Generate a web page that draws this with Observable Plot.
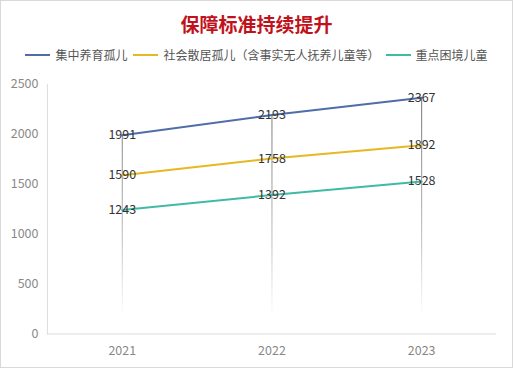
<!DOCTYPE html>
<html>
<head>
<meta charset="utf-8">
<script src="https://cdn.jsdelivr.net/npm/d3@7"></script>
<script src="https://cdn.jsdelivr.net/npm/@observablehq/plot@0.6"></script>
<style>
  html, body { margin: 0; padding: 0; background: #fff; }
  #wrap { position: relative; width: 511px; height: 366px; border: 1px solid #d9d9d9; font-family: "Noto Sans CJK SC", "Noto Sans", sans-serif; overflow: hidden; }
  #title { position: absolute; top: 9px; left: 0; width: 511px; text-align: center; font-size: 19px; font-weight: bold; color: #c1121c; letter-spacing: 0px; }
  #legend { position: absolute; top: 45px; left: 0; width: 511px; display: flex; justify-content: center; font-size: 12px; color: #555; }
  .item { display: flex; align-items: center; margin: 0 3px; }
  .sw { width: 25px; height: 2px; margin-right: 5px; }
  #chart { position: absolute; top: 69px; left: -1px; }
</style>
</head>
<body>
<div id="wrap">
  <div id="title">保障标准持续提升</div>
  <div id="legend"></div>
  <div id="chart"></div>
</div>
<script>
const years = ["2021", "2022", "2023"];
const seriesNames = ["集中养育孤儿", "社会散居孤儿（含事实无人抚养儿童等）", "重点困境儿童"];
const seriesColors = ["#4f6ea8", "#e6b822", "#3fbba5"];
const centralized = [1991, 2193, 2367];
const scattered = [1590, 1758, 1892];
const hardship = [1243, 1392, 1528];
const yTicks = [0, 500, 1000, 1500, 2000, 2500];

const allValues = [centralized, scattered, hardship];
const data = [];
allValues.forEach((vals, si) => {
  vals.forEach((v, i) => data.push({ year: years[i], value: v, series: seriesNames[si] }));
});
const tops = years.map((y, i) => ({ year: y, top: d3.max(allValues, s => s[i]) }));

// legend
const legend = document.getElementById("legend");
seriesNames.forEach((n, i) => {
  const it = document.createElement("div");
  it.className = "item";
  it.innerHTML = `<span class="sw" style="background:${seriesColors[i]}"></span><span>${n}</span>`;
  legend.appendChild(it);
});

const chart = Plot.plot({
  width: 513,
  height: 298,
  marginTop: 14,
  marginBottom: 34,
  marginLeft: 47,
  marginRight: 16,
  style: { fontFamily: "\"Noto Sans CJK SC\", \"Noto Sans\", sans-serif", fontSize: "12.5px", background: "transparent" },
  x: { type: "point", domain: years, padding: 0.5, label: null },
  y: { domain: [0, 2500], label: null },
  color: { domain: seriesNames, range: seriesColors },
  marks: [
    Plot.frame({ anchor: "left", stroke: "#dcdcdc" }),
    Plot.ruleY([0], { stroke: "#dcdcdc" }),
    Plot.ruleX(tops, { x: "year", y1: 0, y2: "top", stroke: "url(#fadeGrad)", strokeWidth: 1 }),
    Plot.axisY({ ticks: yTicks, tickFormat: d => String(d), tickSize: 0, tickPadding: 9, fill: "#888", fontSize: 12.5 }),
    Plot.axisX({ tickSize: 0, tickPadding: 12, fill: "#888", fontSize: 12.5 }),
    Plot.line(data, { x: "year", y: "value", z: "series", stroke: "series", strokeWidth: 2 }),
    Plot.text(data, { x: "year", y: "value", text: d => String(d.value), fill: "#333", fontSize: 12.5 })
  ]
});

const ys = chart.scale("y");
const ns = "http://www.w3.org/2000/svg";
const defs = document.createElementNS(ns, "defs");
const grad = document.createElementNS(ns, "linearGradient");
grad.setAttribute("id", "fadeGrad");
grad.setAttribute("gradientUnits", "userSpaceOnUse");
grad.setAttribute("x1", 0); grad.setAttribute("x2", 0);
grad.setAttribute("y1", ys.apply(d3.max(centralized)));
grad.setAttribute("y2", ys.apply(0));
[["0", "#6f6f6f", 1], ["0.6", "#bdbdbd", 1], ["0.93", "#ffffff", 1]].forEach(([o, c, a]) => {
  const s = document.createElementNS(ns, "stop");
  s.setAttribute("offset", o); s.setAttribute("stop-color", c); s.setAttribute("stop-opacity", a);
  grad.appendChild(s);
});
defs.appendChild(grad);
chart.insertBefore(defs, chart.firstChild);
document.getElementById("chart").appendChild(chart);
</script>
</body>
</html>
